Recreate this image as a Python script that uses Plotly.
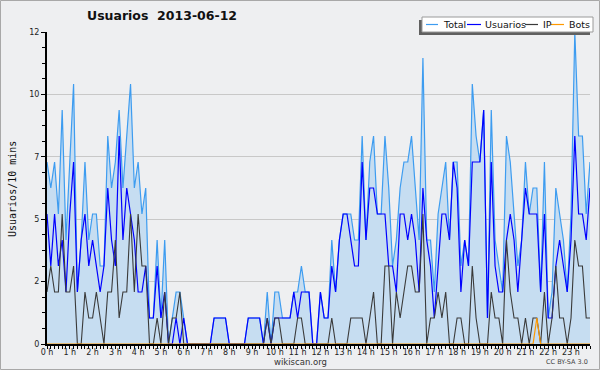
import plotly.graph_objects as go

# 10-minute slots of 2013-06-12
slots = [f"2013-06-12 {h:02d}:{m:02d}" for h in range(24) for m in range(0, 60, 10)]

total = [7, 6, 7, 5, 9, 4, 7, 10, 2, 4,
         7, 4, 5, 5, 3, 3, 8, 6, 7, 9,
         6, 8, 10, 6, 7, 5, 6, 1, 1, 4,
         1, 4, 0, 1, 2, 2, 1, 0, 0, 0,
         0, 0, 0, 0, 1, 1, 1, 1, 0, 0,
         0, 0, 0, 1, 1, 1, 1, 0, 2, 0,
         2, 2, 1, 1, 1, 2, 2, 3, 2, 2,
         0, 0, 2, 1, 1, 4, 2, 4, 5, 5,
         5, 4, 4, 8, 4, 7, 8, 5, 5, 8,
         6, 3, 4, 6, 7, 7, 8, 6, 4, 11,
         4, 4, 2, 5, 6, 7, 4, 7, 7, 3,
         4, 3, 10, 8, 7, 9, 1, 9, 4, 3,
         2, 8, 7, 5, 3, 4, 7, 5, 6, 6,
         2, 7, 1, 2, 6, 5, 4, 2, 5, 12,
         8, 8, 5, 7]

usuarios = [5, 3, 5, 3, 4, 2, 5, 7, 2, 4,
            5, 3, 4, 3, 2, 3, 6, 4, 3, 8,
            4, 6, 5, 4, 2, 2, 3, 1, 1, 3,
            1, 2, 0, 0, 1, 0, 1, 0, 0, 0,
            0, 0, 0, 0, 1, 1, 1, 1, 0, 0,
            0, 0, 0, 1, 1, 1, 1, 0, 1, 0,
            1, 1, 1, 1, 1, 2, 1, 2, 2, 2,
            0, 0, 2, 1, 1, 3, 2, 4, 5, 5,
            4, 3, 3, 7, 4, 6, 6, 5, 5, 5,
            3, 3, 2, 5, 5, 4, 5, 4, 2, 6,
            4, 3, 1, 3, 5, 5, 4, 7, 6, 2,
            4, 3, 7, 7, 7, 9, 1, 7, 3, 2,
            2, 4, 5, 4, 2, 4, 6, 5, 5, 5,
            2, 5, 1, 1, 3, 4, 3, 2, 4, 8,
            5, 5, 4, 6]

ip = [2, 3, 2, 2, 5, 2, 2, 3, 0, 0,
      2, 1, 1, 2, 1, 0, 2, 2, 4, 1,
      2, 2, 5, 2, 5, 3, 3, 0, 0, 1,
      0, 2, 0, 1, 1, 2, 0, 0, 0, 0,
      0, 0, 0, 0, 0, 0, 0, 0, 0, 0,
      0, 0, 0, 0, 0, 0, 0, 0, 1, 0,
      1, 1, 0, 0, 0, 0, 1, 1, 0, 0,
      0, 0, 0, 0, 0, 1, 0, 0, 0, 0,
      1, 1, 1, 1, 0, 1, 2, 0, 0, 3,
      3, 0, 2, 1, 2, 3, 3, 2, 2, 5,
      0, 1, 1, 2, 1, 2, 0, 0, 1, 1,
      0, 0, 3, 1, 0, 0, 0, 2, 1, 1,
      0, 4, 2, 1, 1, 0, 1, 0, 1, 1,
      0, 2, 0, 1, 3, 1, 1, 0, 1, 4,
      3, 3, 1, 1]

bots = [0, 0, 0, 0, 0, 0, 0, 0, 0, 0,
        0, 0, 0, 0, 0, 0, 0, 0, 0, 0,
        0, 0, 0, 0, 0, 0, 0, 0, 0, 0,
        0, 0, 0, 0, 0, 0, 0, 0, 0, 0,
        0, 0, 0, 0, 0, 0, 0, 0, 0, 0,
        0, 0, 0, 0, 0, 0, 0, 0, 0, 0,
        0, 0, 0, 0, 0, 0, 0, 0, 0, 0,
        0, 0, 0, 0, 0, 0, 0, 0, 0, 0,
        0, 0, 0, 0, 0, 0, 0, 0, 0, 0,
        0, 0, 0, 0, 0, 0, 0, 0, 0, 0,
        0, 0, 0, 0, 0, 0, 0, 0, 0, 0,
        0, 0, 0, 0, 0, 0, 0, 0, 0, 0,
        0, 0, 0, 0, 0, 0, 0, 0, 0, 1,
        0, 0, 0, 0, 0, 0, 0, 0, 0, 0,
        0, 0, 0, 0]

y_tickvals = [0, 2.4, 4.8, 7.2, 9.6, 12]
y_ticktext = ["0", "2", "5", "7", "10", "12"]

series_names = ["Total", "Usuarios", "IP", "Bots"]
series_colors = ["#3d9cf0", "#0000ff", "#3a3a3a", "#ff9900"]

FONT = "DejaVu Sans, sans-serif"
BG = "#eeeff1"

W, H = 600, 370
L, R, T, B = 47, 10, 32, 26
PW, PH = W - L - R, H - T - B


def px(x):
    return (x - L) / PW


def py(y):
    return (H - B - y) / PH


fig = go.Figure()
fig.add_trace(go.Scatter(x=slots, y=total, mode="lines", fill="tozeroy",
                         fillcolor="#c6ddf1", line=dict(color=series_colors[0], width=1.2),
                         name=series_names[0]))
fig.add_trace(go.Scatter(x=slots, y=usuarios, mode="lines",
                         line=dict(color=series_colors[1], width=1.2), name=series_names[1]))
fig.add_trace(go.Scatter(x=slots, y=ip, mode="lines",
                         line=dict(color=series_colors[2], width=1.1), name=series_names[2]))
fig.add_trace(go.Scatter(x=slots, y=bots, mode="lines",
                         line=dict(color=series_colors[3], width=1.2), name=series_names[3]))

shapes = []
annotations = []

# outer frame
shapes.append(dict(type="rect", xref="paper", yref="paper",
                   x0=px(0.5), x1=px(599.5), y0=py(0.5), y1=py(369.5),
                   line=dict(color="#a8a8a8", width=1), fillcolor="rgba(0,0,0,0)", layer="below"))

# legend box with shadow
shapes.append(dict(type="rect", xref="paper", yref="paper",
                   x0=px(419), x1=px(590), y0=py(20), y1=py(35),
                   line=dict(width=0), fillcolor="#606060", layer="above"))
shapes.append(dict(type="rect", xref="paper", yref="paper",
                   x0=px(422), x1=px(593), y0=py(17), y1=py(32),
                   line=dict(color="#9a9a9a", width=1), fillcolor="white", layer="above"))
leg_line = [(426, 438), (467, 481), (525, 538), (551, 564)]
leg_text = [441, 483, 541, 567]
for name, color, (a, b), tx in zip(series_names, series_colors, leg_line, leg_text):
    shapes.append(dict(type="line", xref="paper", yref="paper",
                       x0=px(a), x1=px(b), y0=py(24.5), y1=py(24.5),
                       line=dict(color=color, width=1.2), layer="above"))
    annotations.append(dict(text=name, xref="paper", yref="paper", x=px(tx), y=py(24.5),
                            xanchor="left", yanchor="middle", showarrow=False,
                            font=dict(family=FONT, size=9.5, color="#111")))

annotations.append(dict(text="<b>Usuarios  2013-06-12</b>", xref="paper", yref="paper",
                        x=px(85), y=py(16), xanchor="left", yanchor="middle", showarrow=False,
                        font=dict(family=FONT, size=12.5, color="#111")))
annotations.append(dict(text="Usuarios/10 mins", xref="paper", yref="paper",
                        x=px(12), y=py(189), xanchor="center", yanchor="middle", textangle=-90,
                        showarrow=False, font=dict(family="DejaVu Sans Mono, monospace", size=10, color="#111")))
annotations.append(dict(text="wikiscan.org", xref="paper", yref="paper",
                        x=px(300), y=py(362), xanchor="center", yanchor="middle", showarrow=False,
                        font=dict(family=FONT, size=8.5, color="#333")))
annotations.append(dict(text="CC BY-SA 3.0", xref="paper", yref="paper",
                        x=px(590), y=py(362), xanchor="right", yanchor="middle", showarrow=False,
                        font=dict(family=FONT, size=6.5, color="#444")))

fig.update_layout(
    width=W, height=H,
    margin=dict(l=L, r=R, t=T, b=B, pad=0, autoexpand=False),
    paper_bgcolor=BG, plot_bgcolor=BG,
    showlegend=False,
    shapes=shapes, annotations=annotations,
    font=dict(family=FONT, size=8, color="#222"),
)
fig.update_xaxes(
    type="date", range=[slots[0], slots[-1]], automargin=False,
    tickmode="linear", tick0=slots[0], dtick=3600000, tickformat="%-H h",
    ticks="outside", ticklen=3, tickcolor="#000", tickwidth=1, ticklabelstandoff=-4,
    minor=dict(dtick=600000, ticks="outside", ticklen=3, tickcolor="#000", showgrid=False),
    showgrid=False, zeroline=False,
    showline=True, linecolor="#000", linewidth=2,
    tickfont=dict(family=FONT, size=8, color="#222"),
)
fig.update_yaxes(
    range=[0, 12], automargin=False, tickmode="array", tickvals=y_tickvals, ticktext=y_ticktext,
    ticks="outside", ticklen=4, tickcolor="#000",
    minor=dict(dtick=0.6, tick0=0, ticks="outside", ticklen=3, tickcolor="#000", showgrid=False),
    showgrid=True, gridcolor="#c8c8c8", gridwidth=1, zeroline=False,
    showline=True, linecolor="#000", linewidth=2,
    tickfont=dict(family=FONT, size=8, color="#222"),
)

fig.write_html("out.html", config={"displayModeBar": False},
               post_script="document.body.style.margin='0';document.body.style.padding='0';"
                           "document.body.style.background='" + BG + "';")
